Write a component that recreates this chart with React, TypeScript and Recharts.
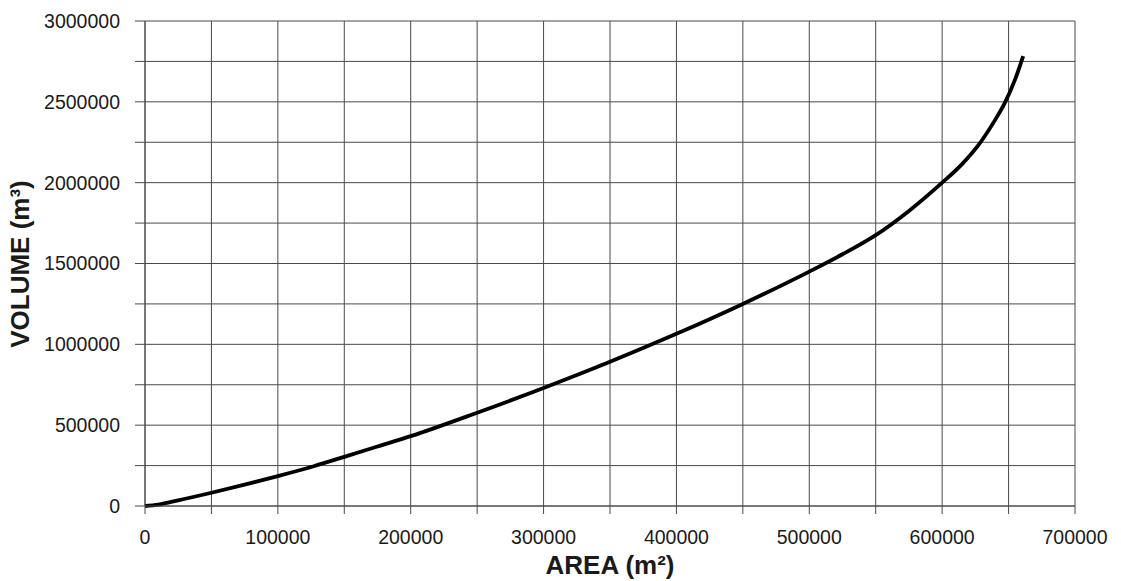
import React from 'react';
import { LineChart, Line, XAxis, YAxis, CartesianGrid } from 'recharts';

const areaValues = [0, 10000, 25000, 50000, 75000, 100000, 127000, 150000, 175000, 200000, 250000, 300000, 350000, 400000, 450000, 500000, 525000, 550000, 575000, 600000, 615000, 628000, 640000, 647000, 655000, 661000];
const volumeValues = [0, 9000, 35000, 82000, 132000, 185000, 246000, 304000, 368000, 432000, 577000, 730000, 892000, 1065000, 1250000, 1450000, 1557000, 1675000, 1825000, 2000000, 2115000, 2240000, 2390000, 2490000, 2640000, 2783000];

const xTicks = [0, 50000, 100000, 150000, 200000, 250000, 300000, 350000, 400000, 450000, 500000, 550000, 600000, 650000, 700000];
const yTicks = [0, 250000, 500000, 750000, 1000000, 1250000, 1500000, 1750000, 2000000, 2250000, 2500000, 2750000, 3000000];

const data = areaValues.map((a, i) => ({ area: a, volume: volumeValues[i] }));

const FONT = '"Liberation Sans", Arial, sans-serif';

const XLabel = (props: any) => {
  const vb = props.viewBox || {};
  return (
    <text x={vb.x + vb.width / 2} y={574} textAnchor="middle" fontFamily={FONT} fontWeight="bold" fontSize={26} fill="#1a1a1a">
      AREA (m²)
    </text>
  );
};

const YLabel = () => (
  <text x={0} y={0} transform="translate(29,264) rotate(-90)" textAnchor="middle" fontFamily={FONT} fontWeight="bold" fontSize={26} fill="#1a1a1a">
    VOLUME (m³)
  </text>
);

export default function App() {
  return (
    <div style={{ position: 'absolute', left: 0, top: 0, width: 1121, height: 581, background: '#fff' }}>
      <LineChart width={1121} height={581} data={data} margin={{ top: 21, right: 46, left: 0, bottom: 0 }}>
        <CartesianGrid stroke="#4a4a4a" strokeWidth={1} />
        <XAxis
          dataKey="area"
          type="number"
          domain={[0, 700000]}
          ticks={xTicks}
          interval={0}
          height={75}
          tickSize={8}
          tickMargin={16}
          stroke="#4a4a4a"
          tick={{ fill: '#1a1a1a', fontSize: 19.5, fontFamily: FONT }}
          tickFormatter={(v: number) => (v % 100000 === 0 ? String(v) : '')}
          label={<XLabel />}
        />
        <YAxis
          type="number"
          domain={[0, 3000000]}
          ticks={yTicks}
          interval={0}
          width={145}
          tickSize={10}
          tickMargin={15}
          stroke="#4a4a4a"
          tick={{ fill: '#1a1a1a', fontSize: 19.5, fontFamily: FONT }}
          tickFormatter={(v: number) => (v % 500000 === 0 ? String(v) : '')}
          label={<YLabel />}
        />
        <Line
          type="monotone"
          dataKey="volume"
          stroke="#000"
          strokeWidth={3.8}
          dot={false}
          isAnimationActive={false}
        />
      </LineChart>
    </div>
  );
}
